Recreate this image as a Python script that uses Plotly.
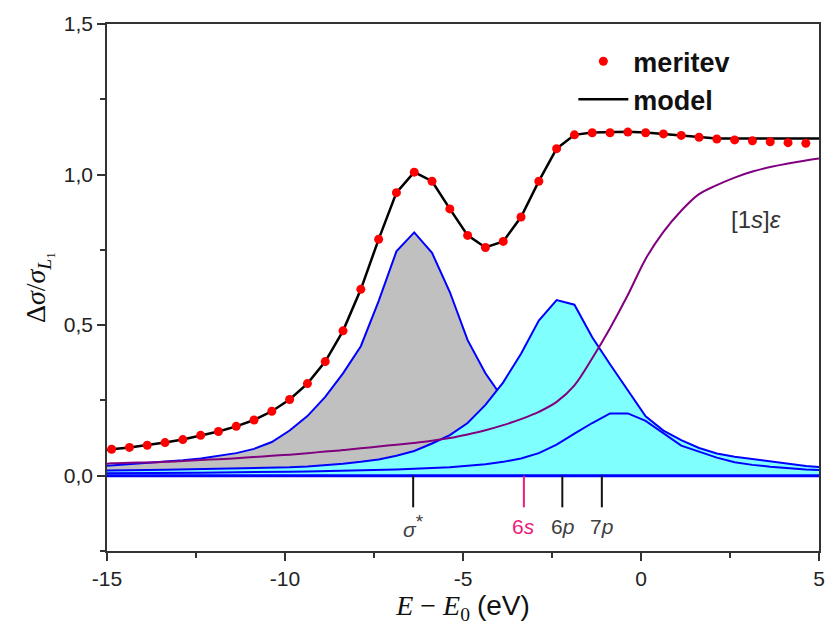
import plotly.graph_objects as go

# ---------------- data ----------------
E_meas = [-14.87, -14.37, -13.87, -13.37, -12.87, -12.37, -11.87, -11.37, -10.87, -10.37,
          -9.87, -9.37, -8.87, -8.37, -7.87, -7.37, -6.87, -6.37, -5.87, -5.37,
          -4.87, -4.37, -3.87, -3.37, -2.87, -2.37, -1.87, -1.37, -0.87, -0.37,
          0.13, 0.63, 1.13, 1.63, 2.13, 2.63, 3.13, 3.63, 4.13, 4.63]
meritev = [0.088, 0.094, 0.101, 0.110, 0.120, 0.134, 0.147, 0.164, 0.185, 0.214,
           0.253, 0.306, 0.379, 0.481, 0.619, 0.785, 0.940, 1.008, 0.978, 0.886,
           0.798, 0.758, 0.778, 0.859, 0.978, 1.086, 1.132, 1.139, 1.139, 1.141,
           1.139, 1.135, 1.130, 1.124, 1.118, 1.115, 1.112, 1.109, 1.106, 1.104]

E_comp = [-15.0] + E_meas + [5.0]
model = [0.085,
         0.088, 0.094, 0.101, 0.110, 0.120, 0.134, 0.147, 0.164, 0.185, 0.214,
         0.253, 0.306, 0.379, 0.481, 0.619, 0.785, 0.940, 1.008, 0.978, 0.886,
         0.798, 0.758, 0.778, 0.859, 0.978, 1.086, 1.132, 1.140, 1.142, 1.142,
         1.140, 1.135, 1.128, 1.123, 1.120, 1.120, 1.120, 1.120, 1.120, 1.120,
         1.120]
sigma_star = [0.033,
              0.034, 0.037, 0.041, 0.046, 0.051, 0.057, 0.065, 0.075, 0.089, 0.112,
              0.150, 0.198, 0.262, 0.340, 0.430, 0.580, 0.745, 0.808, 0.740, 0.610,
              0.450, 0.340, 0.255, 0.195, 0.155, 0.125, 0.105, 0.090, 0.078, 0.068,
              0.060, 0.054, 0.049, 0.045, 0.041, 0.038, 0.035, 0.033, 0.031, 0.029,
              0.028]
peak_6p = [0.017,
           0.017, 0.018, 0.019, 0.020, 0.021, 0.022, 0.023, 0.024, 0.025, 0.027,
           0.028, 0.031, 0.035, 0.040, 0.046, 0.054, 0.066, 0.082, 0.107, 0.135,
           0.175, 0.235, 0.310, 0.405, 0.515, 0.583, 0.568, 0.460, 0.370, 0.285,
           0.197, 0.150, 0.118, 0.092, 0.074, 0.063, 0.055, 0.046, 0.038, 0.032,
           0.029]
peak_7p = [0.008,
           0.008, 0.008, 0.009, 0.009, 0.010, 0.010, 0.011, 0.011, 0.012, 0.012,
           0.013, 0.014, 0.015, 0.016, 0.017, 0.019, 0.021, 0.023, 0.025, 0.028,
           0.033, 0.038, 0.046, 0.057, 0.075, 0.103, 0.140, 0.175, 0.207, 0.207,
           0.182, 0.140, 0.100, 0.080, 0.060, 0.045, 0.036, 0.030, 0.025, 0.021,
           0.019]
continuum = [0.040,
             0.041, 0.043, 0.044, 0.046, 0.049, 0.052, 0.055, 0.058, 0.062, 0.066,
             0.070, 0.075, 0.080, 0.085, 0.091, 0.097, 0.103, 0.109, 0.116, 0.125,
             0.137, 0.151, 0.168, 0.188, 0.212, 0.245, 0.300, 0.390, 0.490, 0.600,
             0.720, 0.810, 0.880, 0.935, 0.965, 0.990, 1.010, 1.025, 1.037, 1.047,
             1.053]
baseline_E = [-15.0, 5.0]
baseline_y = [0.0, 0.0]

level_E = [-6.40, -2.21, -1.10]
level_labels = ["<i>σ</i><sup><span style='font-size:19px'>*</span></sup>",
                "6<i>p</i>", "7<i>p</i>"]
s6_E = [-3.29]
s6_labels = ["6<i>s</i>"]
level_top, level_bottom, label_y = 0.0, -0.105, -0.168

x_tickvals = [-15, -10, -5, 0, 5]
x_ticktext = ["-15", "-10", "-5", "0", "5"]
y_tickvals = [0.0, 0.5, 1.0, 1.5]
y_ticktext = ["0,0", "0,5", "1,0", "1,5"]

cont_label = "[1<i>s</i>]<i>ε</i>"
cont_label_pos = (3.23, 0.85)

# ---------------- figure ----------------
BLUE = "#0000ff"
fig = go.Figure()

fig.add_trace(go.Scatter(x=E_comp, y=sigma_star, mode="lines", fill="tozeroy",
                         fillcolor="#c0c0c0", line=dict(color=BLUE, width=2),
                         showlegend=False))
fig.add_trace(go.Scatter(x=E_comp, y=peak_6p, mode="lines", fill="tozeroy",
                         fillcolor="#80ffff", line=dict(color=BLUE, width=2),
                         showlegend=False))
fig.add_trace(go.Scatter(x=E_comp, y=peak_7p, mode="lines",
                         line=dict(color=BLUE, width=2), showlegend=False))
fig.add_trace(go.Scatter(x=baseline_E, y=baseline_y, mode="lines",
                         line=dict(color=BLUE, width=3), showlegend=False))
fig.add_trace(go.Scatter(x=E_comp, y=continuum, mode="lines", line_shape="spline",
                         line=dict(color="#800080", width=2), showlegend=False))

# level markers
def seg(xs):
    X, Y = [], []
    for e in xs:
        X += [e, e, None]
        Y += [level_top, level_bottom, None]
    return X, Y

lx, ly = seg(level_E)
fig.add_trace(go.Scatter(x=lx, y=ly, mode="lines", line=dict(color="#111111", width=2),
                         showlegend=False, cliponaxis=False))
sx, sy = seg(s6_E)
fig.add_trace(go.Scatter(x=sx, y=sy, mode="lines", line=dict(color="#ec1c7c", width=2),
                         showlegend=False, cliponaxis=False))

fig.add_trace(go.Scatter(x=E_comp, y=model, mode="lines", name="model",
                         line=dict(color="black", width=2.5)))
fig.add_trace(go.Scatter(x=E_meas, y=meritev, mode="markers", name="meritev",
                         marker=dict(color="#ff0000", size=9, line=dict(width=0))))

for e, t in zip(level_E, level_labels):
    fig.add_annotation(x=e, y=label_y, text=t, showarrow=False,
                       font=dict(family="Liberation Sans", size=21, color="#404040"))
for e, t in zip(s6_E, s6_labels):
    fig.add_annotation(x=e, y=label_y, text=t, showarrow=False,
                       font=dict(family="Liberation Sans", size=21, color="#ec1c7c"))
fig.add_annotation(x=cont_label_pos[0], y=cont_label_pos[1], text=cont_label,
                   showarrow=False,
                   font=dict(family="Liberation Sans", size=24, color="#333333"))

axis_common = dict(showline=True, linecolor="#333333", linewidth=1.5, mirror=True,
                   ticks="outside", ticklen=8, tickwidth=1.5, tickcolor="#333333",
                   showgrid=False, zeroline=False, automargin=False,
                   tickfont=dict(family="Liberation Sans", size=21, color="#222222"))

fig.update_layout(
    width=829, height=634,
    margin=dict(l=107, r=10, t=24, b=83, autoexpand=False),
    plot_bgcolor="white", paper_bgcolor="white",
    xaxis=dict(range=[-15, 5], tickvals=x_tickvals, ticktext=x_ticktext,
               minor=dict(ticks="outside", dtick=2.5, ticklen=5, tickwidth=1.5,
                          tickcolor="#333333"),
               title=dict(text="<i>E</i> − <i>E</i><sub>0</sub> "
                               "<span style='font-family:Liberation Sans'>(eV)</span>",
                          font=dict(family="Liberation Serif", size=28, color="#111111"),
                          standoff=6),
               **axis_common),
    yaxis=dict(range=[-0.25, 1.5], tickvals=y_tickvals, ticktext=y_ticktext,
               minor=dict(ticks="outside", dtick=0.25, tick0=0, ticklen=5, tickwidth=1.5,
                          tickcolor="#333333"),
               title=dict(text="Δ<i>σ</i>/<i>σ</i><sub><i>L</i>₁</sub>",
                          font=dict(family="Liberation Serif", size=28, color="#111111"),
                          standoff=10),
               **axis_common),
    legend=dict(x=0.655, y=0.975, xanchor="left", yanchor="top",
                bgcolor="rgba(0,0,0,0)", itemwidth=50, traceorder="reversed",
                font=dict(family="Liberation Sans", size=27, color="#111111",
                          weight="bold")),
)

fig.write_html("out.html")
